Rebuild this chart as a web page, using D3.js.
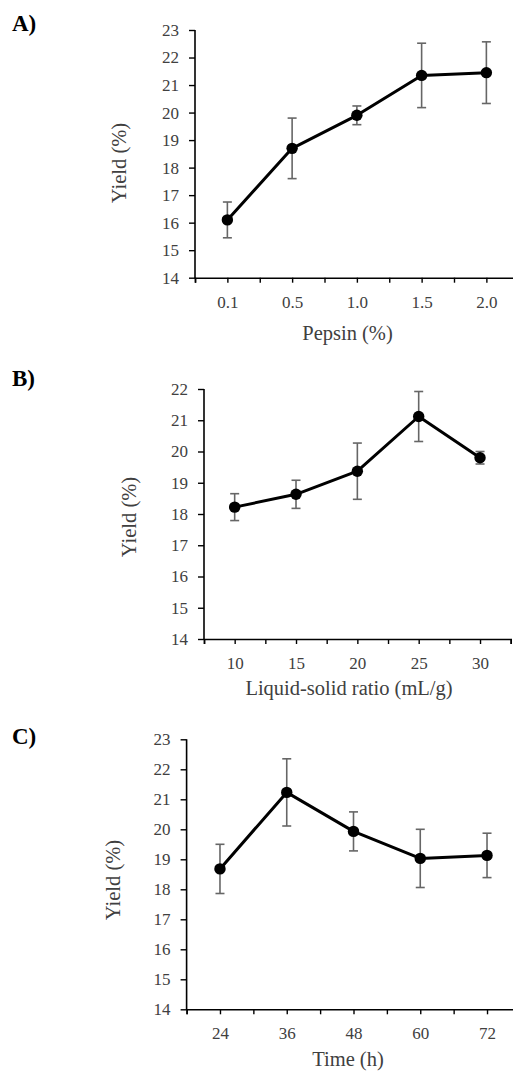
<!DOCTYPE html>
<html>
<head>
<meta charset="utf-8">
<script src="https://cdn.jsdelivr.net/npm/d3@7"></script>
<style>
  body { margin: 0; background: #fff; }
  svg { display: block; font-family: "Liberation Serif", "Times New Roman", serif; }
</style>
</head>
<body>
<svg id="chart" width="513" height="1072"></svg>
<script>
// panel A - pepsin
var pepsinLabels = ["0.1", "0.5", "1.0", "1.5", "2.0"];
var pepsinYield = [16.1, 18.7, 19.9, 21.35, 21.45];
var pepsinErr = [0.65, 1.1, 0.34, 1.17, 1.12];
var pepsinTicks = [14, 15, 16, 17, 18, 19, 20, 21, 22, 23];

// panel B - liquid-solid ratio
var ratioLabels = ["10", "15", "20", "25", "30"];
var ratioYield = [18.22, 18.63, 19.37, 21.12, 19.8];
var ratioErr = [0.43, 0.45, 0.9, 0.8, 0.2];
var ratioTicks = [14, 15, 16, 17, 18, 19, 20, 21, 22];

// panel C - time
var timeLabels = ["24", "36", "48", "60", "72"];
var timeYield = [18.68, 21.23, 19.93, 19.03, 19.13];
var timeErr = [0.82, 1.12, 0.65, 0.97, 0.74];
var timeTicks = [14, 15, 16, 17, 18, 19, 20, 21, 22, 23];

var svg = d3.select("#chart");
var textColor = "#404040";

function drawPanel(p) {
  var g = svg.append("g");
  var n = p.labels.length;

  var x = d3.scaleLinear().domain([-0.5, n - 0.5]).range([p.left, p.right]);
  var y = d3.scaleLinear().domain([p.ticks[0], p.ticks[p.ticks.length - 1]]).range([p.bottom, p.top]);

  var data = p.labels.map(function(l, i) {
    return {label: l, i: i, v: p.values[i], e: p.errors[i]};
  });

  // x axis: ticks at every half band, labels at the centres
  var xAxis = g.append("g")
      .attr("transform", "translate(0," + p.bottom + ")")
      .call(d3.axisBottom(x)
        .tickValues(d3.range(-0.5, n, 0.5))
        .tickSizeOuter(0)
        .tickSize(5)
        .tickPadding(13)
        .tickFormat(function(d) { return Number.isInteger(d) ? p.labels[d] : ""; }));

  var yAxis = g.append("g")
      .attr("transform", "translate(" + p.left + ",0)")
      .call(d3.axisLeft(y)
        .tickValues(p.ticks)
        .tickSizeOuter(0)
        .tickSize(6)
        .tickPadding(10)
        .tickFormat(d3.format("d")));

  [xAxis, yAxis].forEach(function(a) {
    a.select(".domain").attr("stroke", "#000").attr("stroke-width", 1.6);
    a.selectAll(".tick line").attr("stroke", "#000").attr("stroke-width", 1.4);
    a.selectAll(".tick text")
      .attr("fill", textColor)
      .style("font-size", "17px")
      .style("font-family", "'Liberation Serif', serif");
  });
  // y axis runs down to the x axis line
  yAxis.select(".domain").attr("d", "M0," + (p.top) + "V" + (p.bottom + 0.8));

  // error bars
  var eb = g.append("g").attr("stroke", "#666").attr("stroke-width", 1.6).attr("fill", "none");
  data.forEach(function(d) {
    var cx = x(d.i);
    eb.append("line").attr("x1", cx).attr("x2", cx).attr("y1", y(d.v + d.e)).attr("y2", y(d.v - d.e));
    eb.append("line").attr("x1", cx - 4.5).attr("x2", cx + 4.5).attr("y1", y(d.v + d.e)).attr("y2", y(d.v + d.e));
    eb.append("line").attr("x1", cx - 4.5).attr("x2", cx + 4.5).attr("y1", y(d.v - d.e)).attr("y2", y(d.v - d.e));
  });

  var line = d3.line()
      .x(function(d) { return x(d.i); })
      .y(function(d) { return y(d.v); });

  g.append("path")
      .datum(data)
      .attr("fill", "none")
      .attr("stroke", "#000")
      .attr("stroke-width", 3)
      .attr("stroke-linejoin", "round")
      .attr("d", line);

  g.selectAll("circle")
    .data(data)
    .enter().append("circle")
      .attr("cx", function(d) { return x(d.i); })
      .attr("cy", function(d) { return y(d.v); })
      .attr("r", 5.7)
      .attr("fill", "#000");

  // titles
  g.append("text")
      .attr("transform", "translate(" + p.yTitleX + "," + p.yTitleY + ") rotate(-90)")
      .attr("text-anchor", "middle")
      .attr("dy", "0.3em")
      .attr("fill", textColor)
      .style("font-size", "20.5px")
      .text("Yield (%)");

  g.append("text")
      .attr("x", p.xTitleX)
      .attr("y", p.xTitleY)
      .attr("text-anchor", "middle")
      .attr("fill", textColor)
      .style("font-size", "20.5px")
      .text(p.xTitle);

  g.append("text")
      .attr("x", 12)
      .attr("y", p.tagY)
      .attr("fill", "#000")
      .style("font-size", "23px")
      .style("font-weight", "bold")
      .text(p.tag);
}

drawPanel({
  tag: "A)", tagY: 31,
  labels: pepsinLabels, values: pepsinYield, errors: pepsinErr, ticks: pepsinTicks,
  left: 195, right: 518.75, top: 30, bottom: 277.7,
  yTitleX: 120, yTitleY: 163,
  xTitle: "Pepsin (%)", xTitleX: 347.5, xTitleY: 340
});

drawPanel({
  tag: "B)", tagY: 386,
  labels: ratioLabels, values: ratioYield, errors: ratioErr, ticks: ratioTicks,
  left: 204, right: 510.7, top: 389, bottom: 639,
  yTitleX: 130, yTitleY: 517,
  xTitle: "Liquid-solid ratio (mL/g)", xTitleX: 349, xTitleY: 695
});

drawPanel({
  tag: "C)", tagY: 744,
  labels: timeLabels, values: timeYield, errors: timeErr, ticks: timeTicks,
  left: 186.6, right: 520.4, top: 739.3, bottom: 1009.3,
  yTitleX: 114, yTitleY: 880,
  xTitle: "Time (h)", xTitleX: 348, xTitleY: 1066
});
</script>
</body>
</html>
